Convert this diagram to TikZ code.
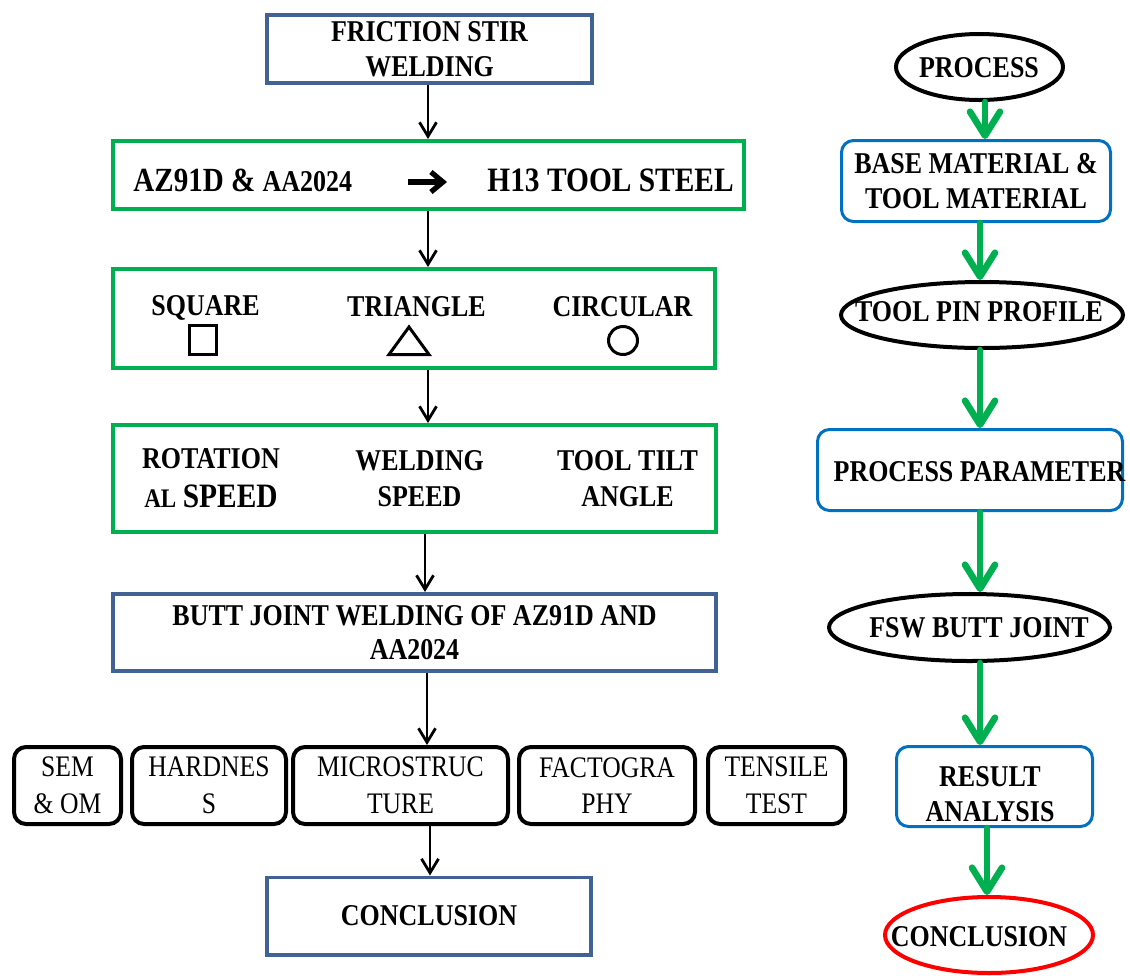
\documentclass[tikz,border=0pt]{standalone}
\usepackage{fontspec}
\setmainfont{Liberation Serif}[FakeStretch=0.86]
\usetikzlibrary{arrows.meta,shapes.geometric}
\definecolor{fswblue}{RGB}{65,98,146}
\definecolor{fgreen}{RGB}{0,176,80}
\definecolor{rblue}{RGB}{0,112,192}
\definecolor{rred}{RGB}{255,0,0}
\tikzset{
  bt/.style={font=\fontsize{15.1}{17.5}\selectfont\bfseries, align=center, inner sep=0pt},
  rt/.style={font=\fontsize{14.9}{18.25}\selectfont, align=center, inner sep=0pt},
  lbox/.style={draw=fswblue, line width=1.8pt, rectangle, inner sep=0pt},
  gbox/.style={draw=fgreen, line width=2.2pt, rectangle, inner sep=0pt},
  tbox/.style={draw=black, line width=2pt, rectangle, rounded corners=6pt, inner sep=0pt},
  rbox/.style={draw=rblue, line width=1.5pt, rectangle, rounded corners=6pt, inner sep=0pt},
  ebox/.style={draw=black, line width=2pt, ellipse, inner sep=0pt},
  barr/.style={draw=black, line width=1.4pt, -{Straight Barb[length=7pt,width=8.5pt]}},
  garr/.style={draw=fgreen, line width=3.3pt, line cap=round, -{Straight Barb[length=12pt,width=15pt,round]}},
  symb/.style={draw=black, line width=1.5pt},
}
\begin{document}
\begin{tikzpicture}[x=0.5pt,y=-0.5pt]
\useasboundingbox (0,0) rectangle (1130,975);
\fill[white] (0,0) rectangle (1130,975);

% ---------------- left column ----------------
\node[lbox, bt, minimum width=162.7pt, minimum height=34.2pt] (fsw) at (429.5,49) {FRICTION STIR\\WELDING};

\node[gbox, minimum width=315.3pt, minimum height=33.8pt] (mat) at (428.5,175) {};
\node[bt, font=\fontsize{16.9}{17.5}\selectfont\bfseries, anchor=base west] (az) at (133,191) {AZ91D \& {\fontsize{15.1}{17.5}\selectfont AA2024}};
\coordinate (arS) at (408,182);
\coordinate (arE) at (447,182);
\draw[line width=2.6pt, -{Straight Barb[length=6pt,width=10pt]}] (arS) -- (arE);
\node[bt, font=\fontsize{17.1}{17.5}\selectfont\bfseries, anchor=base west] (h13) at (487,191) {H13 TOOL STEEL};

\node[gbox, minimum width=300.8pt, minimum height=49.3pt] (prof) at (414,318.5) {};
\node[bt, anchor=base] (sqt) at (205.5,315) {SQUARE};
\node[bt, anchor=base] (trt) at (416.5,316) {TRIANGLE};
\node[bt, anchor=base] (cit) at (622.5,316.5) {CIRCULAR};
\node[symb, rectangle, minimum width=13.5pt, minimum height=14.5pt, inner sep=0pt] (sq) at (203,340) {};
\draw[symb, line join=miter] (389,354.5) -- (409,327) -- (429,354.5) -- cycle;
\node[symb, ellipse, minimum width=14.5pt, minimum height=14pt, inner sep=0pt] (ci) at (623,340.5) {};

\node[gbox, minimum width=301.3pt, minimum height=53.3pt] (par) at (414.5,478.5) {};
\node[bt] (rot) at (211,478) {ROTATION\\[2pt]{\fontsize{13.4}{17.5}\selectfont AL} {\fontsize{17.1}{17.5}\selectfont SPEED}};
\node[bt] (wel) at (419.5,479) {WELDING\\[0.5pt]SPEED};
\node[bt] (til) at (627.5,479) {TOOL TILT\\[0.5pt]ANGLE};

\node[lbox, bt, font=\fontsize{15.1}{17}\selectfont\bfseries, minimum width=301.7pt, minimum height=38.7pt] (butt) at (414.5,632.5) {BUTT JOINT WELDING OF AZ91D AND\\AA2024};

\node[tbox, rt, minimum width=53.5pt, minimum height=38.5pt] (sem) at (67.5,785.5) {SEM\\\& OM};
\node[tbox, rt, minimum width=77pt, minimum height=38.5pt] (hard) at (209,785.5) {HARDNES\\S};
\node[tbox, rt, minimum width=107.5pt, minimum height=38.5pt] (micro) at (400.5,785.5) {MICROSTRUC\\TURE};
\node[tbox, rt, minimum width=88pt, minimum height=38.5pt] (fact) at (607,785.5) {FACTOGRA\\PHY};
\node[tbox, rt, minimum width=68.5pt, minimum height=38.5pt] (tens) at (776.5,785.5) {TENSILE\\TEST};

\node[lbox, bt, minimum width=162.2pt, minimum height=38.7pt] (concl) at (429,916) {CONCLUSION};

\coordinate (bx1) at (428,0);
\coordinate (bx4) at (425,0);
\coordinate (bx5) at (427,0);
\coordinate (bx6) at (430,0);
\draw[barr] (fsw.south -| bx1) -- (mat.north -| bx1);
\draw[barr] (mat.south -| bx1) -- (prof.north -| bx1);
\draw[barr] (prof.south -| bx1) -- (par.north -| bx1);
\draw[barr] (par.south -| bx4) -- (butt.north -| bx4);
\draw[barr] (butt.south -| bx5) -- (micro.north -| bx5);
\draw[barr] (micro.south -| bx6) -- (concl.north -| bx6);

% ---------------- right column ----------------
\node[ebox, minimum width=83.5pt, minimum height=33pt] (proc) at (979.5,67) {};
\node[bt] (proct) at (979,67.5) {PROCESS};
\node[rbox, bt, minimum width=134.5pt, minimum height=40.5pt] (base) at (976,181) {BASE MATERIAL \&\\TOOL MATERIAL};
\node[ebox, minimum width=141pt, minimum height=33pt] (pinp) at (982,315) {};
\node[bt] (pint) at (979,312) {TOOL PIN PROFILE};
\node[rbox, minimum width=152.5pt, minimum height=40.5pt] (pp) at (970,470) {};
\node[bt] (ppt) at (979.5,472) {PROCESS PARAMETER};
\node[ebox, minimum width=140.5pt, minimum height=33.5pt] (fj) at (969.5,627.5) {};
\node[bt] (fjt) at (979,628) {FSW BUTT JOINT};
\node[rbox, minimum width=98pt, minimum height=40pt] (res) at (994.5,786.5) {};
\node[bt] (rest) at (990,794) {RESULT\\ANALYSIS};
\node[ebox, draw=rred, minimum width=104pt, minimum height=38pt] (con) at (989,935) {};
\node[bt] (cont) at (979,936.5) {CONCLUSION};

\coordinate (gx1) at (985,0);
\coordinate (gx2) at (980,0);
\coordinate (gx6) at (987,0);
\draw[garr] (proc.south -| gx1) -- (base.north -| gx1);
\draw[garr] (base.south -| gx2) -- (pinp.north -| gx2);
\draw[garr] (pinp.south -| gx2) -- (pp.north -| gx2);
\draw[garr] (pp.south -| gx2) -- (fj.north -| gx2);
\draw[garr] (fj.south -| gx2) -- (res.north -| gx2);
\draw[garr] (res.south -| gx6) -- (con.north -| gx6);
\end{tikzpicture}
\end{document}
